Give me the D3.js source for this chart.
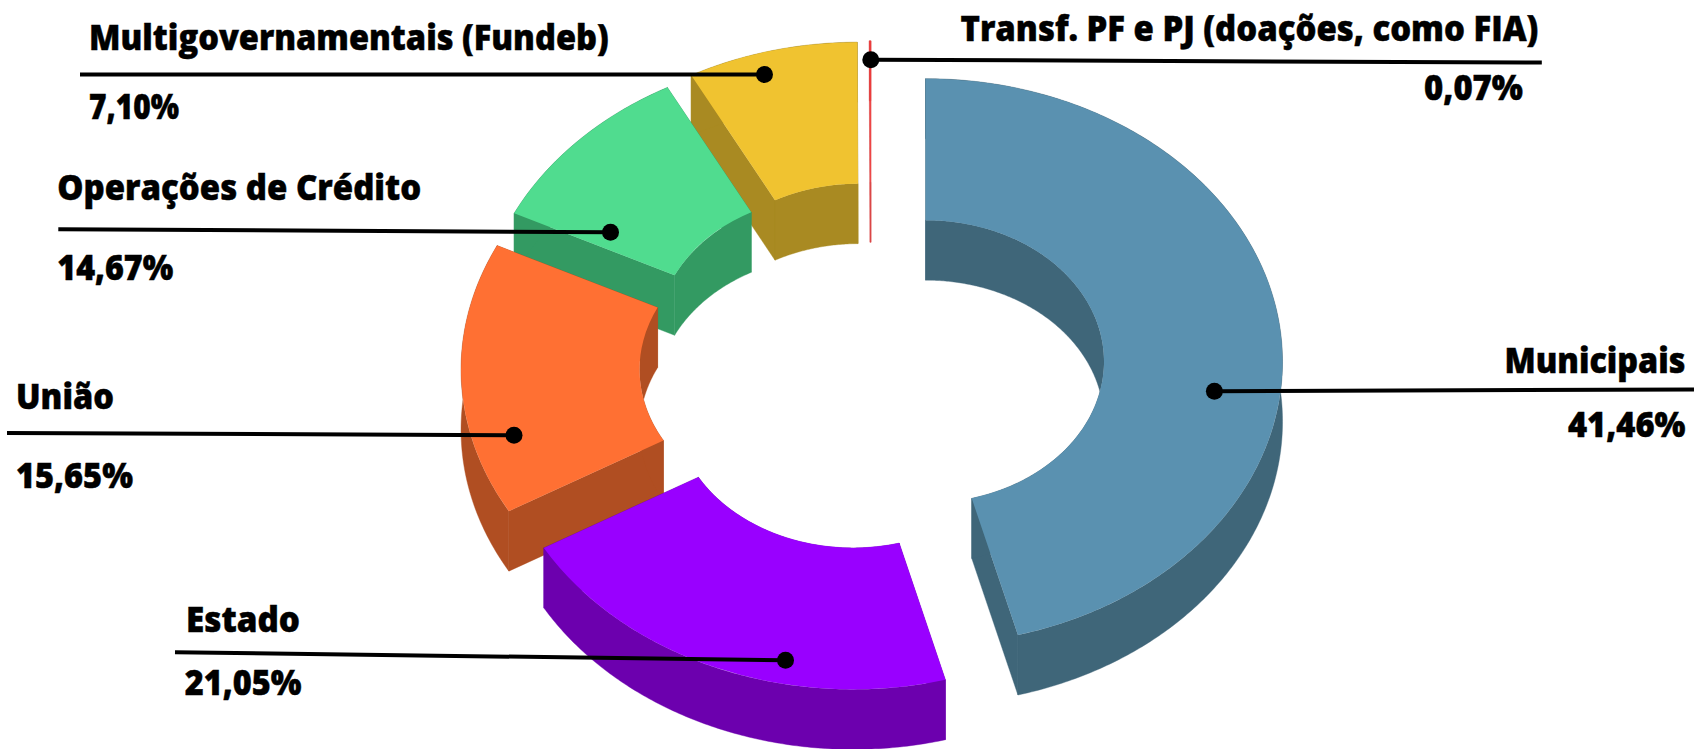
<!DOCTYPE html>
<html lang="pt-BR">
<head>
<meta charset="utf-8">
<title>Receitas por origem</title>
<script src="https://cdn.jsdelivr.net/npm/d3@7/dist/d3.min.js"></script>
<style>
html,body{margin:0;padding:0;background:#fff;overflow:hidden}
svg{display:block}
text{font-family:"Open Sans","Noto Sans",Roboto,sans-serif;font-weight:800;fill:#000;stroke:#000;stroke-width:.5px}
</style>
</head>
<body>
<svg id="chart" width="1694" height="749"></svg>
<script>
// ---- data ----
const categories = ["Municipais","Estado","União","Operações de Crédito","Multigovernamentais (Fundeb)","Transf. PF e PJ (doações, como FIA)"];
const percentages = [41.46,21.05,15.65,14.67,7.10,0.07];
// angular sweep of each slice as it is actually drawn in the picture (degrees)
const drawnSweep = [165,75,56,36,27.75,0.25];

// ---- styles / layout (not data) ----
const topColors  = ["#5a91b0","#9900ff","#ff7033","#50dc8f","#f0c330","#ee3b3b"];
const wallColors = ["#3f6679","#6c00ae","#b04e22","#339a62","#a98a22","#d84040"];
const explode    = [55,47,53,50,50,50];
const W=1694,H=749;
const base={x:871,y:368}, explodeAspect=0.884;
const rx=357, ryRatio=283/357, innerFrac=0.5, depth=60;

const nameLabels = [
 {x:1504.5,y:372.7,w:181},{x:186,y:631.6,w:114},{x:16,y:408.5,w:98},
 {x:57.3,y:199.7,w:364},{x:89,y:50,w:520},{x:960.5,y:40.6,w:578}];
const valueLabels = [
 {x:1568,y:436.7,w:117.5},{x:184.8,y:695,w:116.7},{x:16,y:488,w:117},
 {x:57.3,y:279.5,w:116},{x:89,y:119,w:90},{x:1424,y:100.3,w:99}];
const leaders = [
 {x1:1694,y1:389.4,x2:1214.4,y2:391.3},{x1:175,y1:652.2,x2:785.5,y2:660.3},
 {x1:7,y1:432.9,x2:514,y2:435.3},{x1:58.3,y1:229.3,x2:610.5,y2:232.2},
 {x1:80,y1:74.5,x2:764.5,y2:74.5},{x1:1541.8,y1:62.6,x2:870.8,y2:59.7}];

// ---- build ----
const svg=d3.select("#chart");
svg.append("rect").attr("width",W).attr("height",H).attr("fill","#fff");
const fmt=d3.formatLocale({decimal:",",thousands:".",grouping:[3],currency:["R$",""]}).format(".2f");

const pie=d3.pie().value(d=>d).sort(null);
const arcs=pie(drawnSweep);
const radius=d3.scaleLinear().domain([0,1]).range([0,rx]);
const outerR=radius(1), innerR=radius(innerFrac);
const arcGen=d3.arc().innerRadius(innerR).outerRadius(outerR);
const line=d3.line();

function centerOf(a,i){
  const m=(a.startAngle+a.endAngle)/2;
  return {x:base.x+explode[i]*Math.sin(m), y:base.y-explode[i]*explodeAspect*Math.cos(m)};
}
function pt(c,r,ang,dz){return [c.x+r*Math.sin(ang), c.y-r*ryRatio*Math.cos(ang)+(dz||0)];}
function arcPts(c,r,a0,a1,dz){
  const n=Math.max(2,Math.ceil(Math.abs(a1-a0)/0.01));
  return d3.range(n+1).map(k=>pt(c,r,a0+(a1-a0)*k/n,dz));
}

// back-to-front paint order
const order=d3.range(arcs.length).reverse();
const gSlices=svg.append("g").attr("class","slices");
order.forEach(i=>{
  const a=arcs[i], c=centerOf(a,i), g=gSlices.append("g").attr("class","slice");
  const walls=[
    // radial faces
    [pt(c,innerR,a.startAngle),pt(c,outerR,a.startAngle),pt(c,outerR,a.startAngle,depth),pt(c,innerR,a.startAngle,depth)],
    [pt(c,innerR,a.endAngle),pt(c,outerR,a.endAngle),pt(c,outerR,a.endAngle,depth),pt(c,innerR,a.endAngle,depth)],
    // outer and inner cylinder walls
    arcPts(c,outerR,a.startAngle,a.endAngle).concat(arcPts(c,outerR,a.endAngle,a.startAngle,depth)),
    arcPts(c,innerR,a.startAngle,a.endAngle).concat(arcPts(c,innerR,a.endAngle,a.startAngle,depth))
  ];
  g.selectAll("path.wall").data(walls).join("path").attr("class","wall")
    .attr("d",d=>line(d)+"Z").attr("fill",wallColors[i])
    .attr("stroke",wallColors[i]).attr("stroke-width",0.4);
  g.append("path").attr("class","top")
    .attr("transform",`translate(${c.x},${c.y}) scale(1,${ryRatio})`)
    .attr("d",arcGen(a)).attr("fill",topColors[i]);
});

// leaders
const gLead=svg.append("g").attr("class","leaders");
gLead.selectAll("line").data(leaders).join("line")
  .attr("x1",d=>d.x1).attr("y1",d=>d.y1).attr("x2",d=>d.x2).attr("y2",d=>d.y2)
  .attr("stroke","#000").attr("stroke-width",4);
gLead.selectAll("circle").data(leaders).join("circle")
  .attr("cx",d=>d.x2).attr("cy",d=>d.y2).attr("r",8.5).attr("fill","#000");

// labels: squeeze each text horizontally to the width it has in the picture
const fit=(sel)=>sel.attr("font-size",35).text(d=>d.t)
  .attr("transform",function(d){
    const sx=d.p.w/this.getComputedTextLength();
    return `translate(${d.p.x},${d.p.y}) scale(${sx},1)`;
  });
const gText=svg.append("g").attr("class","labels");
gText.selectAll("text.name").data(categories.map((t,i)=>({t,p:nameLabels[i]})))
  .join("text").attr("class","name").call(fit);
gText.selectAll("text.value").data(percentages.map((v,i)=>({t:fmt(v)+"%",p:valueLabels[i]})))
  .join("text").attr("class","value").call(fit);
</script>
</body>
</html>
